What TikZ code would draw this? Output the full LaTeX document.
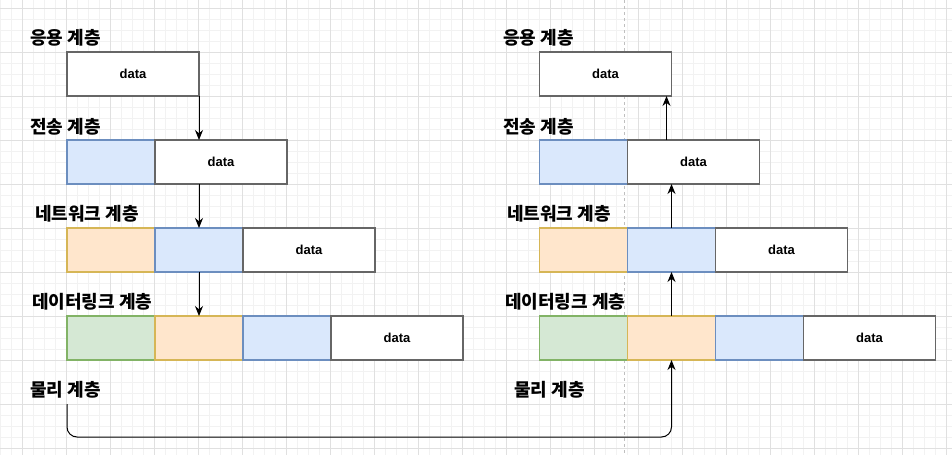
\documentclass[tikz,border=0pt]{standalone}
\usepackage{fontspec}
\setmainfont{Liberation Sans}
\newfontfamily\krfont{Noto Sans CJK KR}
\usetikzlibrary{positioning,arrows.meta,calc}
\definecolor{blufill}{HTML}{DAE8FC}
\definecolor{bluline}{HTML}{6C8EBF}
\definecolor{orgfill}{HTML}{FFE6CC}
\definecolor{orgline}{HTML}{D6B656}
\definecolor{grnfill}{HTML}{D5E8D4}
\definecolor{grnline}{HTML}{82B366}
\definecolor{datline}{HTML}{666666}
\tikzset{
	cell/.style={draw,minimum height=44pt,inner sep=0pt,outer sep=0pt,
		line width=1.2pt,anchor=west},
	hdr/.style={cell,minimum width=88pt},
	tphdr/.style={hdr,fill=blufill,draw=bluline},
	nwhdr/.style={hdr,fill=orgfill,draw=orgline},
	dlhdr/.style={hdr,fill=grnfill,draw=grnline},
	payload/.style={cell,minimum width=132pt,fill=white,draw=datline,
		font=\bfseries\fontsize{13}{15}\selectfont},
	layername/.style={anchor=west,inner sep=0pt,
		font=\krfont\bfseries\fontsize{18}{21}\selectfont},
	flow/.style={-{Stealth[length=10pt,width=8pt]},line width=1pt},
	minorgrid/.style={draw=black!5,line width=0.6pt},
	majorgrid/.style={draw=black!12,line width=0.6pt}
}

\begin{document}
\begin{tikzpicture}[x=1pt,y=-1pt]
	\useasboundingbox (0,0) rectangle (952,455);
	
	% background grid
	\foreach \k in {0,...,86} \draw[minorgrid] (0.7+11*\k,0) -- (0.7+11*\k,455);
	\foreach \k in {0,...,41} \draw[minorgrid] (0,8+11*\k-11) -- (952,8+11*\k-11);
	\foreach \k in {0,...,21} \draw[majorgrid] (22.7+44*\k,0) -- (22.7+44*\k,455);
	\foreach \k in {0,...,10} \draw[majorgrid] (0,8+44*\k) -- (952,8+44*\k);
	\draw[draw=black!25,dashed,line width=0.6pt] (624.5,0) -- (624.5,455);
	
	% sender
	\node[layername] (lapl) at (30,38) {응용 계층};
	\node[payload] (lapd) at (67,74) {data};
	
	\node[layername] (ltpl) at (30,127) {전송 계층};
	\node[tphdr] (lth) at (67,162) {};
	\node[payload] (ltd) [right=0pt of lth] {data};
	
	\node[layername] (lnwl) at (35,214) {네트워크 계층};
	\node[nwhdr] (lnh) at (67,250) {};
	\node[tphdr] (lnb) [right=0pt of lnh] {};
	\node[payload] (lnd) [right=0pt of lnb] {data};
	
	\node[layername] (ldll) at (32,302) {데이터링크 계층};
	\node[dlhdr] (ldg) at (67,338) {};
	\node[nwhdr] (ldo) [right=0pt of ldg] {};
	\node[tphdr] (ldb) [right=0pt of ldo] {};
	\node[payload] (ldd) [right=0pt of ldb] {data};
	
	\node[layername] (lphl) at (30,390) {물리 계층};
	\coordinate (lwire) at ($(ldg.south west)+(0,44)$);
	
	% receiver
	\node[layername] (rapl) at (503,38) {응용 계층};
	\node[payload] (rapd) at (539.5,74) {data};
	
	\node[layername] (rtpl) at (503,127) {전송 계층};
	\node[tphdr] (rth) at (539.5,162) {};
	\node[payload] (rtd) [right=0pt of rth] {data};
	
	\node[layername] (rnwl) at (507,214) {네트워크 계층};
	\node[nwhdr] (rnh) at (539.5,250) {};
	\node[tphdr] (rnb) [right=0pt of rnh] {};
	\node[payload] (rnd) [right=0pt of rnb] {data};
	
	\node[layername] (rdll) at (505,302) {데이터링크 계층};
	\node[dlhdr] (rdg) at (539.5,338) {};
	\node[nwhdr] (rdo) [right=0pt of rdg] {};
	\node[tphdr] (rdb) [right=0pt of rdo] {};
	\node[payload] (rdd) [right=0pt of rdb] {data};
	
	\node[layername] (rphl) at (514,390) {물리 계층};
	
	% going down
	\draw[flow] (lapd.south east) -- (lapd.south east |- ltd.north);
	\draw[flow] (lnb.north |- ltd.south) -- (lnb.north);
	\draw[flow] (lnb.south) -- (ldo.north);
	
	% wire
	\draw[flow,rounded corners=10pt] (lwire) |- ($(rdo.south)+(0,77)$) -- (rdo.south);
	
	% going up
	\draw[flow] (rdo.north) -- (rnb.south);
	\draw[flow] (rnb.north) -- (rnb.north |- rtd.south);
	\draw[flow] ($(rapd.south east)+(-5,44)$) -- ($(rapd.south east)+(-5,0)$);
\end{tikzpicture}
\end{document}
